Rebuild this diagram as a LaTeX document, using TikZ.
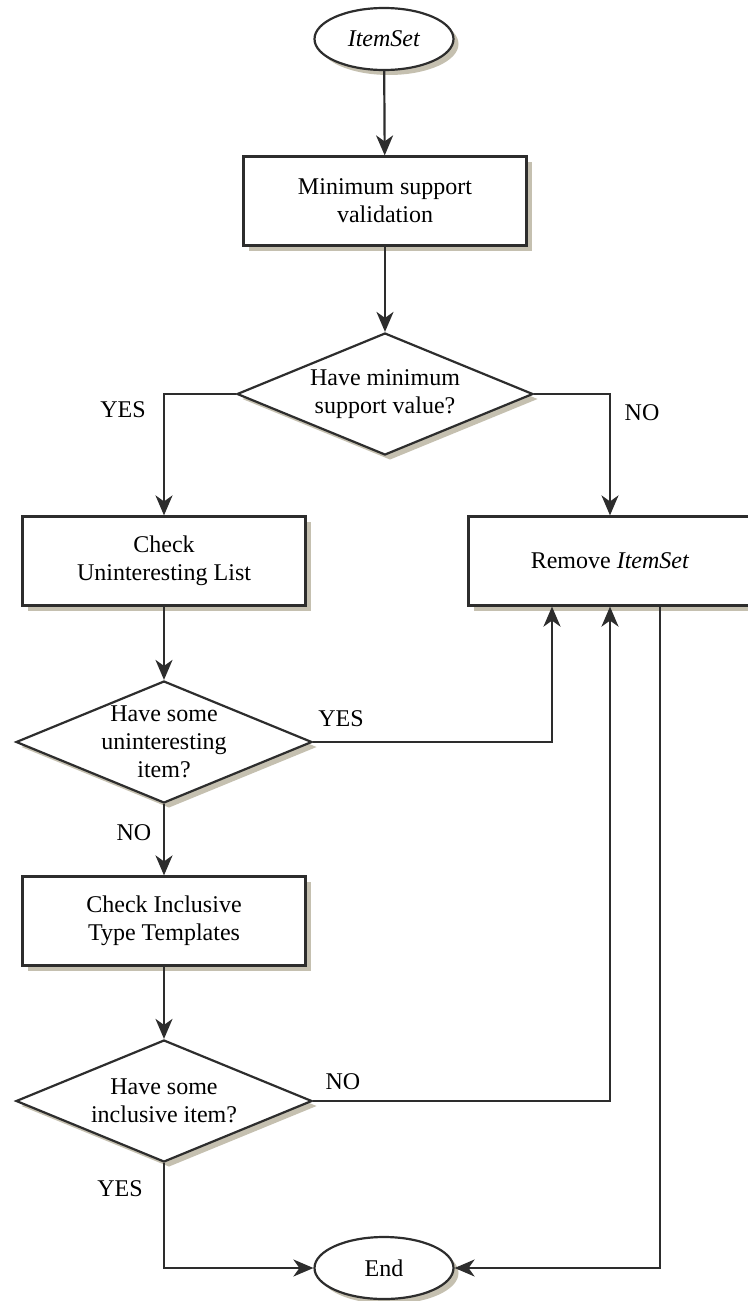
\documentclass[tikz,border=0pt]{standalone}
\usepackage{fontspec}
\setmainfont{Liberation Serif}
\usetikzlibrary{arrows.meta, positioning, shapes.geometric, shadows}
\definecolor{linegray}{RGB}{45,45,45}
\definecolor{shadowtan}{RGB}{172,165,142}

\begin{document}
\begin{tikzpicture}[
    x=1pt, y=-1pt, % pixel-like units, y grows downwards
    font=\fontsize{24}{28}\selectfont,
    % Define shadow look
    soft shadow/.style={
        drop shadow={shadow xshift=5pt, shadow yshift=-5pt, fill=shadowtan, opacity=0.7}
      },
    % Define terminal style (start and end)
    term style/.style={
        draw=linegray, % Draw border
        line width=2.2pt,
        ellipse, % Ellipse shape
        fill=white,
        minimum width=139pt, % Minimum width
        minimum height=62pt, % Minimum height
        inner sep=0pt,
        soft shadow
      },
    % Define process box style
    box style/.style={
        draw=linegray,
        line width=2.2pt,
        rectangle, % Rectangle shape
        fill=white,
        minimum width=283pt,
        minimum height=89pt,
        inner sep=0pt,
        align=center, % Center alignment
        soft shadow
      },
    % Define decision style, text goes in as a centred label
    decision style/.style={
        draw=linegray,
        line width=2.2pt,
        diamond, % Diamond shape
        fill=white,
        minimum width=296pt,
        minimum height=122pt,
        inner sep=0pt,
        soft shadow
      },
    decision text/.style={align=center, inner sep=0pt},
    % Define answer label style
    answer/.style={inner sep=0pt},
    % Define arrow style
    flow/.style={
        draw=linegray,
        line width=2.2pt,
        -{Stealth[length=20pt, width=17pt, inset=6pt]}
      }
  ]

  \useasboundingbox (0,0) rectangle (747,1301);

  % Define nodes
  \node[term style] (ItemSet) at (384, 39) {\textit{ItemSet}}; % start at the top
  \node[box style] (MinSupport) at (385, 201) {Minimum support\\validation};
  \node[decision style, label={[decision text]center:Have minimum\\support value?}] (HaveMinSupport) at (385, 394) {};
  \node[box style] (CheckList) at (164, 561) {Check\\Uninteresting List}; % left column
  \node[box style] (Remove) at (610, 561) {Remove \textit{ItemSet}}; % right column, cut by the page edge
  \node[decision style, label={[decision text]center:Have some\\uninteresting\\item?}] (HaveUninteresting) at (164, 742) {};
  \node[box style] (CheckTemplates) at (164, 921) {Check Inclusive\\Type Templates};
  \node[decision style, label={[decision text]center:Have some\\inclusive item?}] (HaveInclusive) at (164, 1101) {};
  \node[term style] (End) at (384, 1268) {End}; % end at the bottom

  % Answer labels
  \node[answer] (yesMin) at (123, 410) {YES};
  \node[answer] (noMin) at (642, 413) {NO};
  \node[answer] (yesUnint) at (341, 719) {YES};
  \node[answer] (noUnint) at (134, 833) {NO};
  \node[answer] (noIncl) at (343, 1082) {NO};
  \node[answer] (yesIncl) at (120, 1189) {YES};

  % Draw arrows
  \draw[flow] (ItemSet) -- (MinSupport);
  \draw[flow] (MinSupport) -- (HaveMinSupport);

  % YES to the left, NO to the right
  \draw[flow] (HaveMinSupport.west) -| (CheckList.north);
  \draw[flow] (HaveMinSupport.east) -| (Remove.north);

  \draw[flow] (CheckList) -- (HaveUninteresting);

  % uninteresting item found: back up into Remove
  \draw[flow] (HaveUninteresting.east) -| ([xshift=-58pt]Remove.south);
  \draw[flow] (HaveUninteresting) -- (CheckTemplates);

  \draw[flow] (CheckTemplates) -- (HaveInclusive);

  % no inclusive item: back up into Remove
  \draw[flow] (HaveInclusive.east) -| (Remove.south);
  \draw[flow] (HaveInclusive.south) |- (End.west);

  % Remove goes down to End
  \draw[flow] ([xshift=50pt]Remove.south) |- (End.east);

\end{tikzpicture}
\end{document}
